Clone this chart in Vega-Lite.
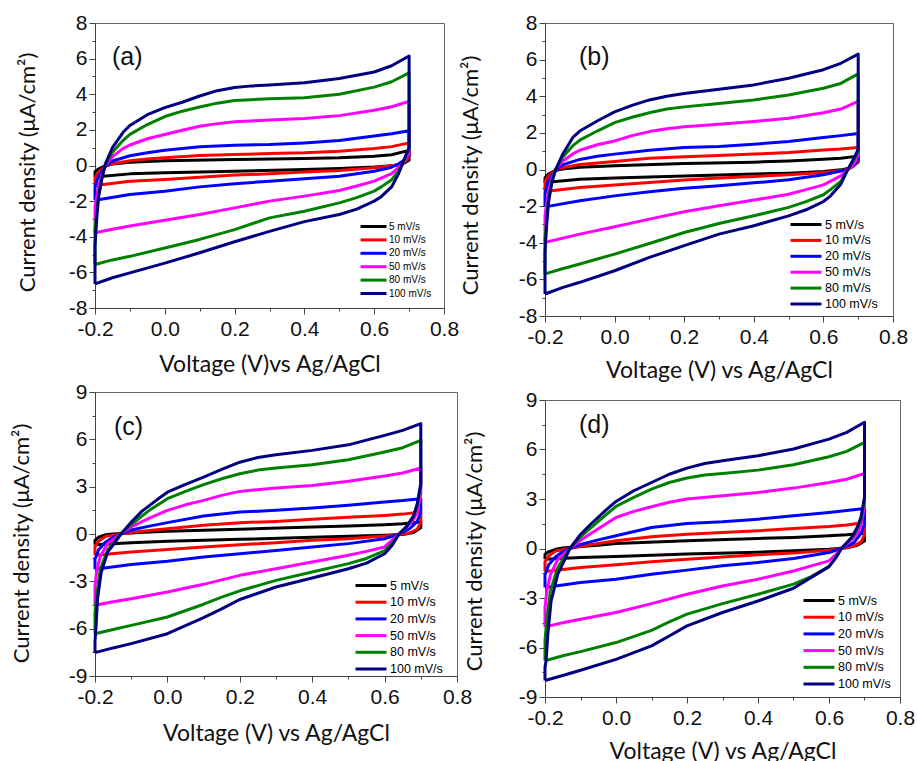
{
"$schema": "https://vega.github.io/schema/vega-lite/v6.json",
"background": "white",
"padding": {"left": 9, "top": 11, "right": 5, "bottom": 5},
"config": {
  "view": {"stroke": "#666", "strokeWidth": 1},
  "axis": {"grid": false, "labelFont": "Liberation Sans", "labelFontSize": 21, "labelColor": "#111", "labelOverlap": false, "labelFlush": false, "titleFont": "Lato", "titleFontWeight": "normal", "titleColor": "#111", "domainColor": "#444", "tickColor": "#444", "labelPadding": 2},
  "legend": {"orient": "none", "labelFont": "Liberation Sans", "labelColor": "#000", "padding": 0, "symbolStrokeWidth": 3},
  "line": {"strokeWidth": 3, "strokeJoin": "round"}
},
"datasets": {
"a": [
{"s":5,"v":-0.2,"j":-0.64},{"s":5,"v":-0.2,"j":-0.35},{"s":5,"v":-0.19,"j":-0.2},{"s":5,"v":-0.17,"j":0},{"s":5,"v":-0.15,"j":0.08},{"s":5,"v":-0.1,"j":0.18},{"s":5,"v":-0.05,"j":0.23},{"s":5,"v":0,"j":0.27},{"s":5,"v":0.2,"j":0.33},{"s":5,"v":0.4,"j":0.39},{"s":5,"v":0.5,"j":0.43},{"s":5,"v":0.6,"j":0.52},{"s":5,"v":0.65,"j":0.6},{"s":5,"v":0.7,"j":0.85},
{"s":5,"v":0.7,"j":0.3},{"s":5,"v":0.68,"j":0.08},{"s":5,"v":0.65,"j":-0.02},{"s":5,"v":0.6,"j":-0.09},{"s":5,"v":0.5,"j":-0.17},{"s":5,"v":0.4,"j":-0.22},{"s":5,"v":0.2,"j":-0.32},{"s":5,"v":0,"j":-0.41},{"s":5,"v":-0.1,"j":-0.47},{"s":5,"v":-0.2,"j":-0.64},
{"s":10,"v":-0.2,"j":-1.12},{"s":10,"v":-0.2,"j":-0.7},{"s":10,"v":-0.19,"j":-0.35},{"s":10,"v":-0.17,"j":-0.05},{"s":10,"v":-0.15,"j":0.1},{"s":10,"v":-0.1,"j":0.27},{"s":10,"v":-0.05,"j":0.36},{"s":10,"v":0,"j":0.43},{"s":10,"v":0.1,"j":0.56},{"s":10,"v":0.2,"j":0.62},{"s":10,"v":0.3,"j":0.67},{"s":10,"v":0.4,"j":0.71},{"s":10,"v":0.5,"j":0.8},{"s":10,"v":0.6,"j":0.95},{"s":10,"v":0.65,"j":1.06},{"s":10,"v":0.7,"j":1.27},
{"s":10,"v":0.7,"j":0.5},{"s":10,"v":0.69,"j":0.25},{"s":10,"v":0.67,"j":0.05},{"s":10,"v":0.65,"j":-0.02},{"s":10,"v":0.6,"j":-0.13},{"s":10,"v":0.5,"j":-0.28},{"s":10,"v":0.4,"j":-0.37},{"s":10,"v":0.3,"j":-0.47},{"s":10,"v":0.2,"j":-0.54},{"s":10,"v":0.1,"j":-0.66},{"s":10,"v":0,"j":-0.79},{"s":10,"v":-0.1,"j":-0.88},{"s":10,"v":-0.2,"j":-1.12},
{"s":20,"v":-0.2,"j":-1.95},{"s":20,"v":-0.2,"j":-1.2},{"s":20,"v":-0.19,"j":-0.6},{"s":20,"v":-0.17,"j":-0.05},{"s":20,"v":-0.15,"j":0.25},{"s":20,"v":-0.1,"j":0.55},{"s":20,"v":-0.05,"j":0.72},{"s":20,"v":0,"j":0.86},{"s":20,"v":0.1,"j":1.05},{"s":20,"v":0.2,"j":1.14},{"s":20,"v":0.3,"j":1.18},{"s":20,"v":0.4,"j":1.27},{"s":20,"v":0.5,"j":1.4},{"s":20,"v":0.6,"j":1.65},{"s":20,"v":0.65,"j":1.78},{"s":20,"v":0.7,"j":1.95},
{"s":20,"v":0.7,"j":0.6},{"s":20,"v":0.69,"j":0.35},{"s":20,"v":0.67,"j":0.1},{"s":20,"v":0.65,"j":-0.1},{"s":20,"v":0.6,"j":-0.32},{"s":20,"v":0.5,"j":-0.6},{"s":20,"v":0.4,"j":-0.75},{"s":20,"v":0.3,"j":-0.88},{"s":20,"v":0.2,"j":-1.03},{"s":20,"v":0.1,"j":-1.2},{"s":20,"v":0,"j":-1.44},{"s":20,"v":-0.1,"j":-1.63},{"s":20,"v":-0.2,"j":-1.95},
{"s":50,"v":-0.2,"j":-3.78},{"s":50,"v":-0.2,"j":-2.3},{"s":50,"v":-0.19,"j":-1.2},{"s":50,"v":-0.18,"j":-0.5},{"s":50,"v":-0.17,"j":0},{"s":50,"v":-0.15,"j":0.5},{"s":50,"v":-0.12,"j":0.95},{"s":50,"v":-0.1,"j":1.15},{"s":50,"v":-0.05,"j":1.5},{"s":50,"v":0,"j":1.74},{"s":50,"v":0.05,"j":1.98},{"s":50,"v":0.1,"j":2.2},{"s":50,"v":0.15,"j":2.35},{"s":50,"v":0.2,"j":2.45},{"s":50,"v":0.3,"j":2.55},{"s":50,"v":0.4,"j":2.64},{"s":50,"v":0.5,"j":2.8},{"s":50,"v":0.6,"j":3.1},{"s":50,"v":0.65,"j":3.3},{"s":50,"v":0.7,"j":3.6},
{"s":50,"v":0.7,"j":0.7},{"s":50,"v":0.69,"j":0.35},{"s":50,"v":0.68,"j":0.1},{"s":50,"v":0.67,"j":-0.1},{"s":50,"v":0.65,"j":-0.45},{"s":50,"v":0.6,"j":-0.88},{"s":50,"v":0.55,"j":-1.15},{"s":50,"v":0.5,"j":-1.4},{"s":50,"v":0.4,"j":-1.72},{"s":50,"v":0.3,"j":-2},{"s":50,"v":0.2,"j":-2.38},{"s":50,"v":0.1,"j":-2.75},{"s":50,"v":0,"j":-3.07},{"s":50,"v":-0.1,"j":-3.4},{"s":50,"v":-0.15,"j":-3.58},{"s":50,"v":-0.2,"j":-3.78},
{"s":80,"v":-0.2,"j":-5.56},{"s":80,"v":-0.2,"j":-3.6},{"s":80,"v":-0.195,"j":-2.6},{"s":80,"v":-0.19,"j":-1.7},{"s":80,"v":-0.18,"j":-0.7},{"s":80,"v":-0.17,"j":0.05},{"s":80,"v":-0.15,"j":0.75},{"s":80,"v":-0.12,"j":1.4},{"s":80,"v":-0.1,"j":1.75},{"s":80,"v":-0.05,"j":2.3},{"s":80,"v":0,"j":2.75},{"s":80,"v":0.05,"j":3.05},{"s":80,"v":0.1,"j":3.28},{"s":80,"v":0.15,"j":3.5},{"s":80,"v":0.2,"j":3.65},{"s":80,"v":0.3,"j":3.75},{"s":80,"v":0.4,"j":3.8},{"s":80,"v":0.5,"j":4},{"s":80,"v":0.6,"j":4.4},{"s":80,"v":0.65,"j":4.7},{"s":80,"v":0.7,"j":5.2},
{"s":80,"v":0.7,"j":0.9},{"s":80,"v":0.69,"j":0.5},{"s":80,"v":0.68,"j":0.05},{"s":80,"v":0.67,"j":-0.3},{"s":80,"v":0.65,"j":-0.8},{"s":80,"v":0.62,"j":-1.2},{"s":80,"v":0.6,"j":-1.44},{"s":80,"v":0.55,"j":-1.8},{"s":80,"v":0.5,"j":-2.1},{"s":80,"v":0.4,"j":-2.57},{"s":80,"v":0.3,"j":-2.94},{"s":80,"v":0.2,"j":-3.6},{"s":80,"v":0.1,"j":-4.15},{"s":80,"v":0,"j":-4.63},{"s":80,"v":-0.1,"j":-5.1},{"s":80,"v":-0.15,"j":-5.3},{"s":80,"v":-0.2,"j":-5.56},
{"s":100,"v":-0.2,"j":-6.65},{"s":100,"v":-0.2,"j":-4.5},{"s":100,"v":-0.195,"j":-3},{"s":100,"v":-0.19,"j":-1.8},{"s":100,"v":-0.18,"j":-0.7},{"s":100,"v":-0.17,"j":0.1},{"s":100,"v":-0.15,"j":1},{"s":100,"v":-0.12,"j":1.85},{"s":100,"v":-0.1,"j":2.25},{"s":100,"v":-0.05,"j":2.85},{"s":100,"v":0,"j":3.25},{"s":100,"v":0.05,"j":3.55},{"s":100,"v":0.1,"j":3.9},{"s":100,"v":0.15,"j":4.2},{"s":100,"v":0.2,"j":4.38},{"s":100,"v":0.25,"j":4.47},{"s":100,"v":0.3,"j":4.52},{"s":100,"v":0.4,"j":4.64},{"s":100,"v":0.5,"j":4.88},{"s":100,"v":0.6,"j":5.25},{"s":100,"v":0.65,"j":5.6},{"s":100,"v":0.7,"j":6.15},
{"s":100,"v":0.7,"j":1},{"s":100,"v":0.69,"j":0.55},{"s":100,"v":0.68,"j":0.05},{"s":100,"v":0.67,"j":-0.45},{"s":100,"v":0.65,"j":-1.2},{"s":100,"v":0.62,"j":-1.75},{"s":100,"v":0.6,"j":-2},{"s":100,"v":0.55,"j":-2.45},{"s":100,"v":0.5,"j":-2.75},{"s":100,"v":0.4,"j":-3.15},{"s":100,"v":0.3,"j":-3.7},{"s":100,"v":0.2,"j":-4.28},{"s":100,"v":0.1,"j":-4.9},{"s":100,"v":0,"j":-5.48},{"s":100,"v":-0.1,"j":-6.03},{"s":100,"v":-0.15,"j":-6.3},{"s":100,"v":-0.2,"j":-6.65}
],
"b": [
{"s":5,"v":-0.2,"j":-0.71},{"s":5,"v":-0.2,"j":-0.45},{"s":5,"v":-0.19,"j":-0.25},{"s":5,"v":-0.17,"j":-0.05},{"s":5,"v":-0.15,"j":0.03},{"s":5,"v":-0.1,"j":0.12},{"s":5,"v":-0.05,"j":0.17},{"s":5,"v":0,"j":0.2},{"s":5,"v":0.2,"j":0.33},{"s":5,"v":0.4,"j":0.4},{"s":5,"v":0.5,"j":0.47},{"s":5,"v":0.6,"j":0.56},{"s":5,"v":0.65,"j":0.62},{"s":5,"v":0.7,"j":0.73},
{"s":5,"v":0.7,"j":0.4},{"s":5,"v":0.68,"j":0.1},{"s":5,"v":0.65,"j":-0.02},{"s":5,"v":0.6,"j":-0.11},{"s":5,"v":0.5,"j":-0.2},{"s":5,"v":0.4,"j":-0.25},{"s":5,"v":0.2,"j":-0.35},{"s":5,"v":0,"j":-0.47},{"s":5,"v":-0.1,"j":-0.53},{"s":5,"v":-0.2,"j":-0.71},
{"s":10,"v":-0.2,"j":-1.2},{"s":10,"v":-0.2,"j":-0.65},{"s":10,"v":-0.19,"j":-0.35},{"s":10,"v":-0.17,"j":-0.05},{"s":10,"v":-0.15,"j":0.1},{"s":10,"v":-0.1,"j":0.27},{"s":10,"v":-0.05,"j":0.36},{"s":10,"v":0,"j":0.44},{"s":10,"v":0.1,"j":0.62},{"s":10,"v":0.2,"j":0.69},{"s":10,"v":0.3,"j":0.76},{"s":10,"v":0.4,"j":0.84},{"s":10,"v":0.5,"j":0.93},{"s":10,"v":0.6,"j":1.07},{"s":10,"v":0.65,"j":1.12},{"s":10,"v":0.7,"j":1.2},
{"s":10,"v":0.7,"j":0.5},{"s":10,"v":0.69,"j":0.25},{"s":10,"v":0.67,"j":0},{"s":10,"v":0.65,"j":-0.05},{"s":10,"v":0.6,"j":-0.16},{"s":10,"v":0.5,"j":-0.29},{"s":10,"v":0.4,"j":-0.38},{"s":10,"v":0.3,"j":-0.47},{"s":10,"v":0.2,"j":-0.58},{"s":10,"v":0.1,"j":-0.71},{"s":10,"v":0,"j":-0.84},{"s":10,"v":-0.1,"j":-0.98},{"s":10,"v":-0.2,"j":-1.2},
{"s":20,"v":-0.2,"j":-2.04},{"s":20,"v":-0.2,"j":-1.3},{"s":20,"v":-0.19,"j":-0.6},{"s":20,"v":-0.17,"j":-0.05},{"s":20,"v":-0.15,"j":0.25},{"s":20,"v":-0.1,"j":0.55},{"s":20,"v":-0.05,"j":0.72},{"s":20,"v":0,"j":0.84},{"s":20,"v":0.1,"j":1.05},{"s":20,"v":0.2,"j":1.2},{"s":20,"v":0.3,"j":1.25},{"s":20,"v":0.4,"j":1.38},{"s":20,"v":0.5,"j":1.53},{"s":20,"v":0.6,"j":1.75},{"s":20,"v":0.65,"j":1.85},{"s":20,"v":0.7,"j":1.96},
{"s":20,"v":0.7,"j":0.6},{"s":20,"v":0.69,"j":0.3},{"s":20,"v":0.67,"j":0.02},{"s":20,"v":0.65,"j":-0.08},{"s":20,"v":0.6,"j":-0.29},{"s":20,"v":0.5,"j":-0.56},{"s":20,"v":0.4,"j":-0.73},{"s":20,"v":0.3,"j":-0.89},{"s":20,"v":0.2,"j":-1.02},{"s":20,"v":0.1,"j":-1.22},{"s":20,"v":0,"j":-1.44},{"s":20,"v":-0.1,"j":-1.71},{"s":20,"v":-0.2,"j":-2.04},
{"s":50,"v":-0.2,"j":-3.98},{"s":50,"v":-0.2,"j":-2.5},{"s":50,"v":-0.19,"j":-1.2},{"s":50,"v":-0.18,"j":-0.45},{"s":50,"v":-0.17,"j":0},{"s":50,"v":-0.15,"j":0.45},{"s":50,"v":-0.12,"j":0.85},{"s":50,"v":-0.1,"j":1.05},{"s":50,"v":-0.05,"j":1.35},{"s":50,"v":0,"j":1.56},{"s":50,"v":0.05,"j":1.85},{"s":50,"v":0.1,"j":2.07},{"s":50,"v":0.15,"j":2.22},{"s":50,"v":0.2,"j":2.33},{"s":50,"v":0.3,"j":2.47},{"s":50,"v":0.4,"j":2.62},{"s":50,"v":0.5,"j":2.8},{"s":50,"v":0.6,"j":3.1},{"s":50,"v":0.65,"j":3.3},{"s":50,"v":0.7,"j":3.72},
{"s":50,"v":0.7,"j":0.8},{"s":50,"v":0.69,"j":0.4},{"s":50,"v":0.68,"j":0.15},{"s":50,"v":0.67,"j":0},{"s":50,"v":0.65,"j":-0.35},{"s":50,"v":0.6,"j":-0.84},{"s":50,"v":0.55,"j":-1.1},{"s":50,"v":0.5,"j":-1.35},{"s":50,"v":0.4,"j":-1.67},{"s":50,"v":0.3,"j":-1.98},{"s":50,"v":0.2,"j":-2.31},{"s":50,"v":0.1,"j":-2.71},{"s":50,"v":0,"j":-3.13},{"s":50,"v":-0.1,"j":-3.53},{"s":50,"v":-0.15,"j":-3.75},{"s":50,"v":-0.2,"j":-3.98},
{"s":80,"v":-0.2,"j":-5.7},{"s":80,"v":-0.2,"j":-3.8},{"s":80,"v":-0.195,"j":-2.7},{"s":80,"v":-0.19,"j":-1.6},{"s":80,"v":-0.18,"j":-0.6},{"s":80,"v":-0.17,"j":0},{"s":80,"v":-0.15,"j":0.65},{"s":80,"v":-0.12,"j":1.3},{"s":80,"v":-0.1,"j":1.6},{"s":80,"v":-0.05,"j":2.1},{"s":80,"v":0,"j":2.56},{"s":80,"v":0.05,"j":2.85},{"s":80,"v":0.1,"j":3.1},{"s":80,"v":0.15,"j":3.3},{"s":80,"v":0.2,"j":3.42},{"s":80,"v":0.3,"j":3.6},{"s":80,"v":0.4,"j":3.8},{"s":80,"v":0.5,"j":4.07},{"s":80,"v":0.6,"j":4.44},{"s":80,"v":0.65,"j":4.7},{"s":80,"v":0.7,"j":5.22},
{"s":80,"v":0.7,"j":1},{"s":80,"v":0.69,"j":0.6},{"s":80,"v":0.68,"j":0.3},{"s":80,"v":0.67,"j":0},{"s":80,"v":0.65,"j":-0.65},{"s":80,"v":0.62,"j":-1.1},{"s":80,"v":0.6,"j":-1.38},{"s":80,"v":0.55,"j":-1.75},{"s":80,"v":0.5,"j":-2.07},{"s":80,"v":0.4,"j":-2.53},{"s":80,"v":0.3,"j":-2.95},{"s":80,"v":0.2,"j":-3.44},{"s":80,"v":0.1,"j":-4.04},{"s":80,"v":0,"j":-4.62},{"s":80,"v":-0.1,"j":-5.16},{"s":80,"v":-0.15,"j":-5.42},{"s":80,"v":-0.2,"j":-5.7},
{"s":100,"v":-0.2,"j":-6.8},{"s":100,"v":-0.2,"j":-4.5},{"s":100,"v":-0.195,"j":-3},{"s":100,"v":-0.19,"j":-1.8},{"s":100,"v":-0.18,"j":-0.7},{"s":100,"v":-0.17,"j":-0.05},{"s":100,"v":-0.15,"j":0.8},{"s":100,"v":-0.12,"j":1.75},{"s":100,"v":-0.1,"j":2.1},{"s":100,"v":-0.05,"j":2.65},{"s":100,"v":0,"j":3.15},{"s":100,"v":0.05,"j":3.5},{"s":100,"v":0.1,"j":3.8},{"s":100,"v":0.15,"j":4},{"s":100,"v":0.2,"j":4.15},{"s":100,"v":0.3,"j":4.38},{"s":100,"v":0.4,"j":4.62},{"s":100,"v":0.5,"j":4.98},{"s":100,"v":0.6,"j":5.45},{"s":100,"v":0.65,"j":5.8},{"s":100,"v":0.7,"j":6.3},
{"s":100,"v":0.7,"j":1.1},{"s":100,"v":0.69,"j":0.7},{"s":100,"v":0.68,"j":0.35},{"s":100,"v":0.67,"j":0},{"s":100,"v":0.65,"j":-0.8},{"s":100,"v":0.62,"j":-1.45},{"s":100,"v":0.6,"j":-1.75},{"s":100,"v":0.55,"j":-2.2},{"s":100,"v":0.5,"j":-2.53},{"s":100,"v":0.4,"j":-3.07},{"s":100,"v":0.3,"j":-3.53},{"s":100,"v":0.2,"j":-4.16},{"s":100,"v":0.1,"j":-4.8},{"s":100,"v":0,"j":-5.53},{"s":100,"v":-0.1,"j":-6.16},{"s":100,"v":-0.15,"j":-6.45},{"s":100,"v":-0.2,"j":-6.8}
],
"c": [
{"s":5,"v":-0.2,"j":-0.68},{"s":5,"v":-0.2,"j":-0.4},{"s":5,"v":-0.19,"j":-0.2},{"s":5,"v":-0.17,"j":-0.05},{"s":5,"v":-0.15,"j":0},{"s":5,"v":-0.1,"j":0.07},{"s":5,"v":-0.05,"j":0.12},{"s":5,"v":0,"j":0.17},{"s":5,"v":0.2,"j":0.3},{"s":5,"v":0.4,"j":0.44},{"s":5,"v":0.5,"j":0.51},{"s":5,"v":0.6,"j":0.59},{"s":5,"v":0.65,"j":0.65},{"s":5,"v":0.7,"j":0.76},
{"s":5,"v":0.7,"j":0.4},{"s":5,"v":0.68,"j":0.1},{"s":5,"v":0.65,"j":-0.03},{"s":5,"v":0.6,"j":-0.08},{"s":5,"v":0.5,"j":-0.15},{"s":5,"v":0.4,"j":-0.21},{"s":5,"v":0.2,"j":-0.34},{"s":5,"v":0,"j":-0.46},{"s":5,"v":-0.1,"j":-0.55},{"s":5,"v":-0.2,"j":-0.68},
{"s":10,"v":-0.2,"j":-1.35},{"s":10,"v":-0.2,"j":-0.8},{"s":10,"v":-0.19,"j":-0.45},{"s":10,"v":-0.17,"j":-0.15},{"s":10,"v":-0.13,"j":0},{"s":10,"v":-0.1,"j":0.1},{"s":10,"v":-0.05,"j":0.22},{"s":10,"v":0,"j":0.34},{"s":10,"v":0.1,"j":0.55},{"s":10,"v":0.2,"j":0.72},{"s":10,"v":0.3,"j":0.8},{"s":10,"v":0.4,"j":0.93},{"s":10,"v":0.5,"j":1.06},{"s":10,"v":0.6,"j":1.18},{"s":10,"v":0.65,"j":1.26},{"s":10,"v":0.7,"j":1.39},
{"s":10,"v":0.7,"j":0.7},{"s":10,"v":0.69,"j":0.3},{"s":10,"v":0.67,"j":0.08},{"s":10,"v":0.65,"j":0},{"s":10,"v":0.6,"j":-0.13},{"s":10,"v":0.5,"j":-0.3},{"s":10,"v":0.4,"j":-0.4},{"s":10,"v":0.3,"j":-0.55},{"s":10,"v":0.2,"j":-0.68},{"s":10,"v":0.1,"j":-0.82},{"s":10,"v":0,"j":-0.99},{"s":10,"v":-0.1,"j":-1.14},{"s":10,"v":-0.2,"j":-1.35},
{"s":20,"v":-0.2,"j":-2.24},{"s":20,"v":-0.2,"j":-1.6},{"s":20,"v":-0.19,"j":-1},{"s":20,"v":-0.17,"j":-0.5},{"s":20,"v":-0.15,"j":-0.2},{"s":20,"v":-0.13,"j":0},{"s":20,"v":-0.1,"j":0.25},{"s":20,"v":-0.05,"j":0.5},{"s":20,"v":0,"j":0.72},{"s":20,"v":0.1,"j":1.14},{"s":20,"v":0.2,"j":1.39},{"s":20,"v":0.3,"j":1.5},{"s":20,"v":0.4,"j":1.65},{"s":20,"v":0.5,"j":1.82},{"s":20,"v":0.6,"j":2.03},{"s":20,"v":0.65,"j":2.12},{"s":20,"v":0.7,"j":2.24},
{"s":20,"v":0.7,"j":1.4},{"s":20,"v":0.69,"j":0.8},{"s":20,"v":0.67,"j":0.35},{"s":20,"v":0.64,"j":0},{"s":20,"v":0.6,"j":-0.3},{"s":20,"v":0.5,"j":-0.61},{"s":20,"v":0.4,"j":-0.82},{"s":20,"v":0.3,"j":-1.04},{"s":20,"v":0.2,"j":-1.25},{"s":20,"v":0.1,"j":-1.46},{"s":20,"v":0,"j":-1.73},{"s":20,"v":-0.1,"j":-1.94},{"s":20,"v":-0.2,"j":-2.24},
{"s":50,"v":-0.2,"j":-4.52},{"s":50,"v":-0.2,"j":-3.3},{"s":50,"v":-0.195,"j":-2.3},{"s":50,"v":-0.185,"j":-1.4},{"s":50,"v":-0.165,"j":-0.6},{"s":50,"v":-0.13,"j":0},{"s":50,"v":-0.1,"j":0.45},{"s":50,"v":-0.05,"j":1},{"s":50,"v":0,"j":1.5},{"s":50,"v":0.05,"j":1.85},{"s":50,"v":0.1,"j":2.13},{"s":50,"v":0.15,"j":2.45},{"s":50,"v":0.2,"j":2.7},{"s":50,"v":0.3,"j":2.92},{"s":50,"v":0.4,"j":3.08},{"s":50,"v":0.5,"j":3.34},{"s":50,"v":0.6,"j":3.68},{"s":50,"v":0.65,"j":3.87},{"s":50,"v":0.7,"j":4.18},
{"s":50,"v":0.7,"j":2.5},{"s":50,"v":0.69,"j":1.4},{"s":50,"v":0.68,"j":0.9},{"s":50,"v":0.66,"j":0.4},{"s":50,"v":0.64,"j":0},{"s":50,"v":0.62,"j":-0.4},{"s":50,"v":0.6,"j":-0.82},{"s":50,"v":0.55,"j":-1.1},{"s":50,"v":0.5,"j":-1.35},{"s":50,"v":0.4,"j":-1.77},{"s":50,"v":0.3,"j":-2.2},{"s":50,"v":0.2,"j":-2.62},{"s":50,"v":0.1,"j":-3.19},{"s":50,"v":0,"j":-3.68},{"s":50,"v":-0.1,"j":-4.1},{"s":50,"v":-0.15,"j":-4.3},{"s":50,"v":-0.2,"j":-4.52},
{"s":80,"v":-0.2,"j":-6.32},{"s":80,"v":-0.2,"j":-5},{"s":80,"v":-0.195,"j":-3.8},{"s":80,"v":-0.185,"j":-2.2},{"s":80,"v":-0.165,"j":-1},{"s":80,"v":-0.145,"j":-0.45},{"s":80,"v":-0.13,"j":0},{"s":80,"v":-0.1,"j":0.6},{"s":80,"v":-0.05,"j":1.5},{"s":80,"v":0,"j":2.24},{"s":80,"v":0.05,"j":2.7},{"s":80,"v":0.1,"j":3.13},{"s":80,"v":0.15,"j":3.5},{"s":80,"v":0.2,"j":3.82},{"s":80,"v":0.25,"j":4.05},{"s":80,"v":0.3,"j":4.18},{"s":80,"v":0.4,"j":4.39},{"s":80,"v":0.5,"j":4.71},{"s":80,"v":0.6,"j":5.2},{"s":80,"v":0.65,"j":5.47},{"s":80,"v":0.7,"j":5.94},
{"s":80,"v":0.7,"j":3},{"s":80,"v":0.69,"j":1.8},{"s":80,"v":0.68,"j":1.1},{"s":80,"v":0.66,"j":0.45},{"s":80,"v":0.64,"j":0},{"s":80,"v":0.62,"j":-0.6},{"s":80,"v":0.6,"j":-1.05},{"s":80,"v":0.55,"j":-1.55},{"s":80,"v":0.5,"j":-1.88},{"s":80,"v":0.4,"j":-2.41},{"s":80,"v":0.3,"j":-2.94},{"s":80,"v":0.2,"j":-3.6},{"s":80,"v":0.15,"j":-4},{"s":80,"v":0.1,"j":-4.45},{"s":80,"v":0,"j":-5.26},{"s":80,"v":-0.1,"j":-5.79},{"s":80,"v":-0.15,"j":-6.05},{"s":80,"v":-0.2,"j":-6.32},
{"s":100,"v":-0.2,"j":-7.52},{"s":100,"v":-0.2,"j":-6.8},{"s":100,"v":-0.197,"j":-5.8},{"s":100,"v":-0.193,"j":-4.1},{"s":100,"v":-0.183,"j":-2.45},{"s":100,"v":-0.165,"j":-1.15},{"s":100,"v":-0.145,"j":-0.55},{"s":100,"v":-0.13,"j":-0.05},{"s":100,"v":-0.1,"j":0.75},{"s":100,"v":-0.07,"j":1.45},{"s":100,"v":-0.03,"j":2.15},{"s":100,"v":0,"j":2.65},{"s":100,"v":0.05,"j":3.15},{"s":100,"v":0.1,"j":3.6},{"s":100,"v":0.15,"j":4.1},{"s":100,"v":0.2,"j":4.55},{"s":100,"v":0.25,"j":4.85},{"s":100,"v":0.3,"j":5.02},{"s":100,"v":0.4,"j":5.3},{"s":100,"v":0.5,"j":5.65},{"s":100,"v":0.6,"j":6.25},{"s":100,"v":0.65,"j":6.57},{"s":100,"v":0.7,"j":7},
{"s":100,"v":0.7,"j":3.2},{"s":100,"v":0.69,"j":1.9},{"s":100,"v":0.68,"j":1.15},{"s":100,"v":0.66,"j":0.45},{"s":100,"v":0.64,"j":0},{"s":100,"v":0.62,"j":-0.75},{"s":100,"v":0.6,"j":-1.25},{"s":100,"v":0.55,"j":-1.85},{"s":100,"v":0.5,"j":-2.2},{"s":100,"v":0.4,"j":-2.79},{"s":100,"v":0.3,"j":-3.36},{"s":100,"v":0.2,"j":-4.15},{"s":100,"v":0.15,"j":-4.75},{"s":100,"v":0.1,"j":-5.3},{"s":100,"v":0,"j":-6.32},{"s":100,"v":-0.1,"j":-6.95},{"s":100,"v":-0.15,"j":-7.22},{"s":100,"v":-0.2,"j":-7.52}
],
"d": [
{"s":5,"v":-0.2,"j":-0.65},{"s":5,"v":-0.2,"j":-0.35},{"s":5,"v":-0.19,"j":-0.2},{"s":5,"v":-0.17,"j":-0.05},{"s":5,"v":-0.15,"j":0.03},{"s":5,"v":-0.1,"j":0.12},{"s":5,"v":-0.05,"j":0.2},{"s":5,"v":0,"j":0.3},{"s":5,"v":0.2,"j":0.47},{"s":5,"v":0.4,"j":0.61},{"s":5,"v":0.5,"j":0.67},{"s":5,"v":0.6,"j":0.77},{"s":5,"v":0.65,"j":0.83},{"s":5,"v":0.7,"j":0.93},
{"s":5,"v":0.7,"j":0.45},{"s":5,"v":0.68,"j":0.2},{"s":5,"v":0.65,"j":0.05},{"s":5,"v":0.6,"j":-0.04},{"s":5,"v":0.5,"j":-0.14},{"s":5,"v":0.4,"j":-0.22},{"s":5,"v":0.2,"j":-0.34},{"s":5,"v":0,"j":-0.49},{"s":5,"v":-0.1,"j":-0.55},{"s":5,"v":-0.2,"j":-0.65},
{"s":10,"v":-0.2,"j":-1.4},{"s":10,"v":-0.2,"j":-0.8},{"s":10,"v":-0.19,"j":-0.45},{"s":10,"v":-0.17,"j":-0.15},{"s":10,"v":-0.13,"j":0},{"s":10,"v":-0.1,"j":0.13},{"s":10,"v":-0.05,"j":0.3},{"s":10,"v":0,"j":0.47},{"s":10,"v":0.1,"j":0.71},{"s":10,"v":0.2,"j":0.87},{"s":10,"v":0.3,"j":0.97},{"s":10,"v":0.4,"j":1.07},{"s":10,"v":0.5,"j":1.21},{"s":10,"v":0.6,"j":1.33},{"s":10,"v":0.65,"j":1.43},{"s":10,"v":0.7,"j":1.58},
{"s":10,"v":0.7,"j":0.8},{"s":10,"v":0.69,"j":0.4},{"s":10,"v":0.67,"j":0.15},{"s":10,"v":0.635,"j":0},{"s":10,"v":0.6,"j":-0.1},{"s":10,"v":0.5,"j":-0.28},{"s":10,"v":0.4,"j":-0.38},{"s":10,"v":0.3,"j":-0.51},{"s":10,"v":0.2,"j":-0.65},{"s":10,"v":0.1,"j":-0.81},{"s":10,"v":0,"j":-0.99},{"s":10,"v":-0.1,"j":-1.15},{"s":10,"v":-0.2,"j":-1.4},
{"s":20,"v":-0.2,"j":-2.37},{"s":20,"v":-0.2,"j":-1.6},{"s":20,"v":-0.19,"j":-1},{"s":20,"v":-0.17,"j":-0.5},{"s":20,"v":-0.15,"j":-0.2},{"s":20,"v":-0.13,"j":0},{"s":20,"v":-0.1,"j":0.25},{"s":20,"v":-0.05,"j":0.52},{"s":20,"v":0,"j":0.77},{"s":20,"v":0.1,"j":1.27},{"s":20,"v":0.2,"j":1.52},{"s":20,"v":0.3,"j":1.62},{"s":20,"v":0.4,"j":1.78},{"s":20,"v":0.5,"j":1.98},{"s":20,"v":0.6,"j":2.18},{"s":20,"v":0.65,"j":2.3},{"s":20,"v":0.7,"j":2.43},
{"s":20,"v":0.7,"j":1.5},{"s":20,"v":0.69,"j":0.9},{"s":20,"v":0.67,"j":0.35},{"s":20,"v":0.635,"j":0},{"s":20,"v":0.6,"j":-0.24},{"s":20,"v":0.5,"j":-0.61},{"s":20,"v":0.4,"j":-0.85},{"s":20,"v":0.3,"j":-1.05},{"s":20,"v":0.2,"j":-1.31},{"s":20,"v":0.1,"j":-1.56},{"s":20,"v":0,"j":-1.86},{"s":20,"v":-0.1,"j":-2.06},{"s":20,"v":-0.2,"j":-2.37},
{"s":50,"v":-0.2,"j":-4.75},{"s":50,"v":-0.2,"j":-3.6},{"s":50,"v":-0.195,"j":-2.6},{"s":50,"v":-0.185,"j":-1.6},{"s":50,"v":-0.165,"j":-0.7},{"s":50,"v":-0.13,"j":0},{"s":50,"v":-0.1,"j":0.5},{"s":50,"v":-0.05,"j":1.2},{"s":50,"v":0,"j":1.88},{"s":50,"v":0.05,"j":2.25},{"s":50,"v":0.1,"j":2.53},{"s":50,"v":0.15,"j":2.8},{"s":50,"v":0.2,"j":3},{"s":50,"v":0.3,"j":3.2},{"s":50,"v":0.4,"j":3.4},{"s":50,"v":0.5,"j":3.66},{"s":50,"v":0.6,"j":4},{"s":50,"v":0.65,"j":4.2},{"s":50,"v":0.7,"j":4.55},
{"s":50,"v":0.7,"j":2.6},{"s":50,"v":0.69,"j":1.4},{"s":50,"v":0.68,"j":0.9},{"s":50,"v":0.66,"j":0.45},{"s":50,"v":0.635,"j":0},{"s":50,"v":0.62,"j":-0.35},{"s":50,"v":0.6,"j":-0.75},{"s":50,"v":0.55,"j":-1.05},{"s":50,"v":0.5,"j":-1.36},{"s":50,"v":0.4,"j":-1.86},{"s":50,"v":0.3,"j":-2.27},{"s":50,"v":0.2,"j":-2.77},{"s":50,"v":0.1,"j":-3.34},{"s":50,"v":0,"j":-3.88},{"s":50,"v":-0.1,"j":-4.29},{"s":50,"v":-0.15,"j":-4.5},{"s":50,"v":-0.2,"j":-4.75},
{"s":80,"v":-0.2,"j":-6.8},{"s":80,"v":-0.2,"j":-5.6},{"s":80,"v":-0.195,"j":-4.3},{"s":80,"v":-0.185,"j":-2.6},{"s":80,"v":-0.165,"j":-1.2},{"s":80,"v":-0.145,"j":-0.5},{"s":80,"v":-0.13,"j":0},{"s":80,"v":-0.1,"j":0.7},{"s":80,"v":-0.05,"j":1.65},{"s":80,"v":0,"j":2.55},{"s":80,"v":0.05,"j":3.1},{"s":80,"v":0.1,"j":3.6},{"s":80,"v":0.15,"j":4},{"s":80,"v":0.2,"j":4.27},{"s":80,"v":0.25,"j":4.45},{"s":80,"v":0.3,"j":4.55},{"s":80,"v":0.4,"j":4.75},{"s":80,"v":0.5,"j":5.08},{"s":80,"v":0.6,"j":5.56},{"s":80,"v":0.65,"j":5.89},{"s":80,"v":0.7,"j":6.43},
{"s":80,"v":0.7,"j":3},{"s":80,"v":0.69,"j":1.7},{"s":80,"v":0.67,"j":0.8},{"s":80,"v":0.65,"j":0.35},{"s":80,"v":0.635,"j":0},{"s":80,"v":0.62,"j":-0.5},{"s":80,"v":0.6,"j":-1.1},{"s":80,"v":0.55,"j":-1.7},{"s":80,"v":0.5,"j":-2.16},{"s":80,"v":0.4,"j":-2.77},{"s":80,"v":0.3,"j":-3.34},{"s":80,"v":0.2,"j":-3.98},{"s":80,"v":0.15,"j":-4.45},{"s":80,"v":0.1,"j":-4.96},{"s":80,"v":0,"j":-5.7},{"s":80,"v":-0.1,"j":-6.25},{"s":80,"v":-0.15,"j":-6.5},{"s":80,"v":-0.2,"j":-6.8},
{"s":100,"v":-0.2,"j":-8},{"s":100,"v":-0.2,"j":-7.2},{"s":100,"v":-0.197,"j":-6.8},{"s":100,"v":-0.192,"j":-5.2},{"s":100,"v":-0.183,"j":-3.2},{"s":100,"v":-0.164,"j":-1.55},{"s":100,"v":-0.145,"j":-0.7},{"s":100,"v":-0.13,"j":0},{"s":100,"v":-0.1,"j":0.85},{"s":100,"v":-0.07,"j":1.5},{"s":100,"v":-0.03,"j":2.3},{"s":100,"v":0,"j":2.85},{"s":100,"v":0.05,"j":3.5},{"s":100,"v":0.1,"j":4},{"s":100,"v":0.15,"j":4.5},{"s":100,"v":0.2,"j":4.87},{"s":100,"v":0.25,"j":5.15},{"s":100,"v":0.3,"j":5.32},{"s":100,"v":0.4,"j":5.62},{"s":100,"v":0.5,"j":6.03},{"s":100,"v":0.6,"j":6.63},{"s":100,"v":0.65,"j":7.04},{"s":100,"v":0.7,"j":7.65},
{"s":100,"v":0.7,"j":3.1},{"s":100,"v":0.69,"j":1.9},{"s":100,"v":0.68,"j":1.3},{"s":100,"v":0.665,"j":0.7},{"s":100,"v":0.65,"j":0.35},{"s":100,"v":0.635,"j":0},{"s":100,"v":0.62,"j":-0.55},{"s":100,"v":0.6,"j":-1.1},{"s":100,"v":0.55,"j":-1.75},{"s":100,"v":0.5,"j":-2.41},{"s":100,"v":0.4,"j":-3.18},{"s":100,"v":0.3,"j":-3.88},{"s":100,"v":0.2,"j":-4.69},{"s":100,"v":0.15,"j":-5.3},{"s":100,"v":0.1,"j":-5.9},{"s":100,"v":0,"j":-6.72},{"s":100,"v":-0.1,"j":-7.38},{"s":100,"v":-0.15,"j":-7.7},{"s":100,"v":-0.2,"j":-8}
]
},
"spacing": -15,
"resolve": {"scale": {"color": "independent"}, "legend": {"color": "independent"}},
"hconcat": [
{
"spacing": 3,
"resolve": {"scale": {"color": "independent"}, "legend": {"color": "independent"}},
"vconcat": [
{
  "width": 349, "height": 285,
  "data": {"name": "a"},
  "title": {"text": "(a)", "anchor": "start", "frame": "group", "offset": 0, "dx": 17, "dy": 70, "baseline": "middle", "fontSize": 25, "font": "Liberation Sans", "fontWeight": "normal", "color": "#111"},
  "mark": {"type": "line"},
  "encoding": {
    "x": {"field": "v", "type": "quantitative", "scale": {"domain": [-0.2, 0.8], "nice": false, "zero": false},
      "axis": {"title": "Voltage (V)vs Ag/AgCl", "titleFontSize": 23, "titlePadding": 14, "values": [-0.2,-0.1,0,0.1,0.2,0.3,0.4,0.5,0.6,0.7,0.8], "format": ".1f", "labelPadding": 4,
        "labelExpr": "abs(round(datum.value*10)) % 2 == 1 ? '' : replace(datum.label, '−', '-')",
        "tickSize": {"condition": {"test": "abs(round(datum.value*10)) % 2 == 1", "value": 3}, "value": 6}}},
    "y": {"field": "j", "type": "quantitative", "scale": {"domain": [-8, 8], "nice": false, "zero": false},
      "axis": {"title": "Current density (μA/cm²)", "titleFontSize": 22, "titlePadding": 29, "titleY": 149, "values": [-8,-7,-6,-5,-4,-3,-2,-1,0,1,2,3,4,5,6,7,8], "format": ".0f",
        "labelExpr": "abs(round(datum.value)) % 2 == 1 ? '' : replace(datum.label, '−', '-')",
        "tickSize": {"condition": {"test": "abs(round(datum.value)) % 2 == 1", "value": 3}, "value": 6}}},
    "color": {"field": "s", "type": "ordinal", "scale": {"domain": [5,10,20,50,80,100], "range": ["#000000","#ff0000","#0000ff","#ff00ff","#008000","#000080"]},
      "legend": {"title": null, "legendX": 264, "legendY": 198, "symbolType": "M-1,0H5.5", "symbolSize": 64, "labelFontSize": 10, "labelOffset": 19, "rowPadding": 2.4, "labelExpr": "datum.label + ' mV/s'"}},
    "order": {"value": null}
  }
},
{
  "width": 362, "height": 284,
  "data": {"name": "c"},
  "title": {"text": "(c)", "anchor": "start", "frame": "group", "offset": 0, "dx": 19, "dy": 71, "baseline": "middle", "fontSize": 25, "font": "Liberation Sans", "fontWeight": "normal", "color": "#111"},
  "mark": {"type": "line"},
  "encoding": {
    "x": {"field": "v", "type": "quantitative", "scale": {"domain": [-0.2, 0.8], "nice": false, "zero": false},
      "axis": {"title": "Voltage (V) vs Ag/AgCl", "titleFontSize": 23, "titlePadding": 15, "values": [-0.2,-0.1,0,0.1,0.2,0.3,0.4,0.5,0.6,0.7,0.8], "format": ".1f", "labelPadding": 4,
        "labelExpr": "abs(round(datum.value*10)) % 2 == 1 ? '' : replace(datum.label, '−', '-')",
        "tickSize": {"condition": {"test": "abs(round(datum.value*10)) % 2 == 1", "value": 3}, "value": 6}}},
    "y": {"field": "j", "type": "quantitative", "scale": {"domain": [-9, 9], "nice": false, "zero": false},
      "axis": {"title": "Current density (μA/cm²)", "titleFontSize": 22, "titlePadding": 35, "titleY": 151, "values": [-9,-7.5,-6,-4.5,-3,-1.5,0,1.5,3,4.5,6,7.5,9], "format": ".0f",
        "labelExpr": "abs(round(datum.value*2)) % 6 == 3 ? '' : replace(datum.label, '−', '-')",
        "tickSize": {"condition": {"test": "abs(round(datum.value*2)) % 6 == 3", "value": 3}, "value": 6}}},
    "color": {"field": "s", "type": "ordinal", "scale": {"domain": [5,10,20,50,80,100], "range": ["#000000","#ff0000","#0000ff","#ff00ff","#008000","#000080"]},
      "legend": {"title": null, "legendX": 259, "legendY": 187, "symbolType": "M-1,0H5.2", "symbolSize": 100, "labelFontSize": 12.5, "labelOffset": 23, "rowPadding": 3.7, "labelExpr": "datum.label + ' mV/s'"}},
    "order": {"value": null}
  }
}
]
},
{
"spacing": 5,
"resolve": {"scale": {"color": "independent"}, "legend": {"color": "independent"}},
"vconcat": [
{
  "width": 348, "height": 293,
  "data": {"name": "b"},
  "title": {"text": "(b)", "anchor": "start", "frame": "group", "offset": 0, "dx": 34, "dy": 70, "baseline": "middle", "fontSize": 25, "font": "Liberation Sans", "fontWeight": "normal", "color": "#111"},
  "mark": {"type": "line"},
  "encoding": {
    "x": {"field": "v", "type": "quantitative", "scale": {"domain": [-0.2, 0.8], "nice": false, "zero": false},
      "axis": {"title": "Voltage (V) vs Ag/AgCl", "titleFontSize": 23, "titlePadding": 12, "values": [-0.2,-0.1,0,0.1,0.2,0.3,0.4,0.5,0.6,0.7,0.8], "format": ".1f", "labelPadding": 4,
        "labelExpr": "abs(round(datum.value*10)) % 2 == 1 ? '' : replace(datum.label, '−', '-')",
        "tickSize": {"condition": {"test": "abs(round(datum.value*10)) % 2 == 1", "value": 3}, "value": 6}}},
    "y": {"field": "j", "type": "quantitative", "scale": {"domain": [-8, 8], "nice": false, "zero": false},
      "axis": {"title": "Current density (μA/cm²)", "titleFontSize": 22, "titlePadding": 36, "titleY": 152, "values": [-8,-7,-6,-5,-4,-3,-2,-1,0,1,2,3,4,5,6,7,8], "format": ".0f",
        "labelExpr": "abs(round(datum.value)) % 2 == 1 ? '' : replace(datum.label, '−', '-')",
        "tickSize": {"condition": {"test": "abs(round(datum.value)) % 2 == 1", "value": 3}, "value": 6}}},
    "color": {"field": "s", "type": "ordinal", "scale": {"domain": [5,10,20,50,80,100], "range": ["#000000","#ff0000","#0000ff","#ff00ff","#008000","#000080"]},
      "legend": {"title": null, "legendX": 244, "legendY": 195, "symbolType": "M-1,0H5.2", "symbolSize": 100, "labelFontSize": 12.5, "labelOffset": 23, "rowPadding": 2.9, "labelExpr": "datum.label + ' mV/s'"}},
    "order": {"value": null}
  }
},
{
  "width": 355, "height": 297,
  "data": {"name": "d"},
  "title": {"text": "(d)", "anchor": "start", "frame": "group", "offset": 0, "dx": 34, "dy": 61, "baseline": "middle", "fontSize": 25, "font": "Liberation Sans", "fontWeight": "normal", "color": "#111"},
  "mark": {"type": "line"},
  "encoding": {
    "x": {"field": "v", "type": "quantitative", "scale": {"domain": [-0.2, 0.8], "nice": false, "zero": false},
      "axis": {"title": "Voltage (V) vs Ag/AgCl", "titleFontSize": 23, "titlePadding": 12, "values": [-0.2,-0.1,0,0.1,0.2,0.3,0.4,0.5,0.6,0.7,0.8], "format": ".1f", "labelPadding": 4,
        "labelExpr": "abs(round(datum.value*10)) % 2 == 1 ? '' : replace(datum.label, '−', '-')",
        "tickSize": {"condition": {"test": "abs(round(datum.value*10)) % 2 == 1", "value": 3}, "value": 6}}},
    "y": {"field": "j", "type": "quantitative", "scale": {"domain": [-9, 9], "nice": false, "zero": false},
      "axis": {"title": "Current density (μA/cm²)", "titleFontSize": 22, "titlePadding": 32, "titleY": 151, "values": [-9,-7.5,-6,-4.5,-3,-1.5,0,1.5,3,4.5,6,7.5,9], "format": ".0f",
        "labelExpr": "abs(round(datum.value*2)) % 6 == 3 ? '' : replace(datum.label, '−', '-')",
        "tickSize": {"condition": {"test": "abs(round(datum.value*2)) % 6 == 3", "value": 3}, "value": 6}}},
    "color": {"field": "s", "type": "ordinal", "scale": {"domain": [5,10,20,50,80,100], "range": ["#000000","#ff0000","#0000ff","#ff00ff","#008000","#000080"]},
      "legend": {"title": null, "legendX": 257, "legendY": 194, "symbolType": "M-1,0H5.2", "symbolSize": 100, "labelFontSize": 12.5, "labelOffset": 23, "rowPadding": 3.7, "labelExpr": "datum.label + ' mV/s'"}},
    "order": {"value": null}
  }
}
]
}
]
}
